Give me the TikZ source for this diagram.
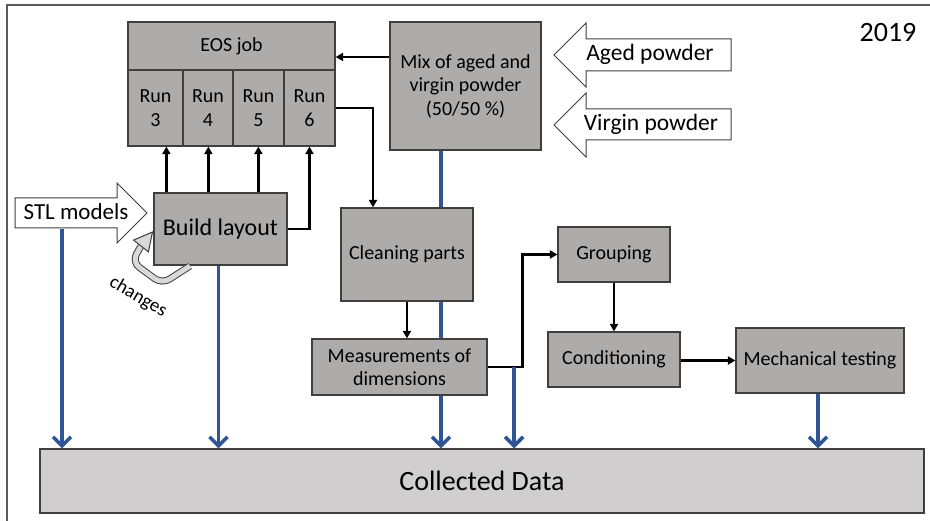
\documentclass[tikz,border=0pt]{standalone}
\usepackage{fontspec}
\setmainfont{Carlito}
\usetikzlibrary{arrows.meta}
\definecolor{boxgray}{HTML}{AEABAB}
\definecolor{datagray}{HTML}{D0CECE}
\definecolor{edgegray}{HTML}{3F3F3F}
\definecolor{framegray}{HTML}{595959}
\definecolor{flowblue}{HTML}{2F5597}
\definecolor{loopgray}{HTML}{D9D9D9}
\begin{document}
\begin{tikzpicture}[x=1pt,y=-1pt,
  box/.style={draw=edgegray, line width=1.2pt, fill=boxgray, inner sep=0pt,
    align=center, font=\fontsize{20}{23.5}\selectfont},
  runbox/.style={box, minimum width=#1, minimum height=76pt, font=\fontsize{20}{24}\selectfont},
  inarrow/.style={draw=edgegray, line width=1pt, fill=white},
  flow/.style={draw=black, line width=2.6pt, -{Triangle[length=7.5pt,width=8pt]}},
  datalink/.style={draw=flowblue, line width=3.6pt, -{Straight Barb[length=9pt,width=18pt]}},
  ]
\useasboundingbox (0,0) rectangle (930,521);

% outer frame
\draw[framegray, line width=1.5pt] (7,530) -- (7,5) -- (935,5);

% process boxes
\node[box, minimum width=207pt, minimum height=48pt] (eos) at (231.5,46) {EOS job};
\node[runbox=55pt] (run3) at (155.5,108) {Run\\3};
\node[runbox=50pt] (run4) at (208,108) {Run\\4};
\node[runbox=51pt] (run5) at (258.5,108) {Run\\5};
\node[runbox=51pt] (run6) at (309.5,108) {Run\\6};
\node[box, minimum width=133pt, minimum height=72pt, font=\fontsize{24}{28}\selectfont] (build) at (220.5,229) {Build layout};
\node[box, minimum width=151pt, minimum height=128pt] (mix) at (465.5,86) {Mix of aged and\\virgin powder\\(50/50 \%)};
\node[box, minimum width=884pt, minimum height=64pt, fill=datagray, font=\fontsize{28}{32}\selectfont] (data) at (482,481) {Collected Data};

% data link from the mix, running behind the boxes below it
\draw[datalink] ([xshift=-24.5pt]mix.south) -- ([xshift=-24.5pt]mix.south |- data.north);

\node[box, minimum width=132pt, minimum height=93pt] (clean) at (407,254.5) {Cleaning parts};
\node[box, minimum width=175pt, minimum height=56pt] (meas) at (399.5,367) {Measurements of\\dimensions};
\node[box, minimum width=112pt, minimum height=55pt] (group) at (614,254.5) {Grouping};
\node[box, minimum width=132pt, minimum height=55pt] (cond) at (614,359.5) {Conditioning};
\node[box, minimum width=168pt, minimum height=65pt] (mech) at (820,360.5) {Mechanical testing};

% input block arrows
\draw[inarrow] (15,198) -- (117,198) -- (117,183) -- (147,213) -- (117,243) -- (117,228) -- (15,228) -- cycle;
\node[font=\fontsize{23}{26}\selectfont, inner sep=0pt] (stl) at (76,212) {STL models};
\draw[inarrow] (554,55) -- (586,23) -- (586,39) -- (731,39) -- (731,71) -- (586,71) -- (586,87) -- cycle;
\node[font=\fontsize{23.5}{26}\selectfont, inner sep=0pt] (aged) at (650,54) {Aged powder};
\draw[inarrow] (554,125) -- (586,93) -- (586,109) -- (731,109) -- (731,140) -- (586,140) -- (586,157) -- cycle;
\node[font=\fontsize{23.5}{26}\selectfont, inner sep=0pt] (virgin) at (651,124) {Virgin powder};

\node[font=\fontsize{28}{32}\selectfont, inner sep=0pt] (year) at (888,33) {2019};

% build layout feeds the runs
\draw[flow] ([xshift=13pt]build.north west) -- ([xshift=13pt]build.north west |- run3.south);
\draw[flow] ([xshift=55pt]build.north west) -- ([xshift=55pt]build.north west |- run4.south);
\draw[flow] ([xshift=105pt]build.north west) -- ([xshift=105pt]build.north west |- run5.south);
\draw[flow] (build.east) -| (run6.south);

% powder mix into the job, runs out to cleaning and onwards
\draw[flow] ([yshift=29pt]mix.west) -- ([yshift=29pt]mix.west -| eos.east);
\draw[flow] (run6.east) -| ([xshift=-34pt]clean.north);
\draw[flow] (clean.south) -- (clean.south |- meas.north);
\coordinate (split) at ([xshift=26.5pt]meas.east);
\draw[flow] (meas.east) -- ++(35,0) |- (group.west);
\draw[flow] (group.south) -- (cond.north);
\draw[flow] (cond.east |- mech.west) -- (mech.west);

% remaining data links
\coordinate (stlfoot) at (62,229);
\draw[datalink] (stlfoot) -- (stlfoot |- data.north);
\draw[datalink] ([xshift=-2pt]build.south) -- ([xshift=-2pt]build.south |- data.north);
\draw[datalink] (split) -- (split |- data.north);
\draw[datalink] ([xshift=-2pt]mech.south) -- ([xshift=-2pt]mech.south |- data.north);

% feedback loop on the build layout
\draw[edgegray, line width=1pt, double=loopgray, double distance=5pt, rounded corners=9pt]
  (190,266) -- (162,284) -- (132,262) -- (141,246);
\filldraw[fill=loopgray, draw=edgegray, line width=1pt]
  (152.5,232) -- (133.6,240.1) -- (148.4,251.9) -- cycle;
\node[rotate=-30, font=\fontsize{19}{21}\selectfont, inner sep=0pt] (chg) at (138,297) {changes};
\end{tikzpicture}
\end{document}
